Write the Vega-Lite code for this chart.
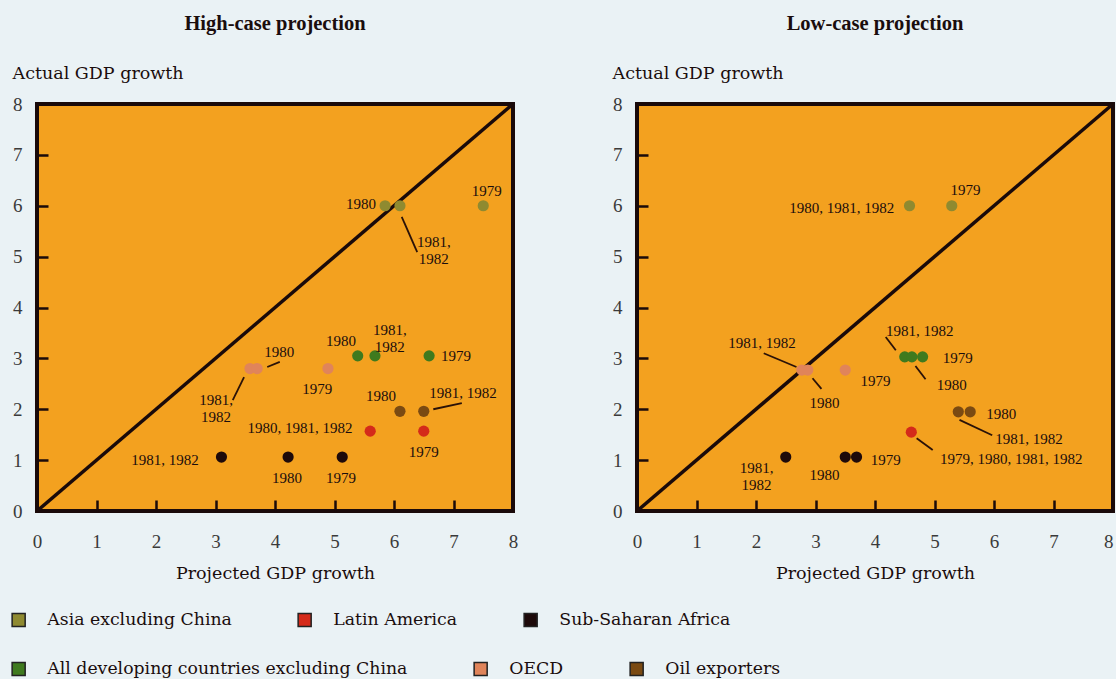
{
  "$schema": "https://vega.github.io/schema/vega-lite/v6.json",
  "background": "#EAF2F5",
  "padding": {"left": 10, "top": 11, "right": 0, "bottom": 0},
  "spacing": 124,
  "bounds": "flush",
  "datasets": {
    "diag": [{"x": 0, "y": 0, "x2": 8, "y2": 8}],
    "points": [
      {"panel": "High", "group": "Asia excluding China", "year": "1980", "x": 5.85, "y": 6.0},
      {"panel": "High", "group": "Asia excluding China", "year": "1981, 1982", "x": 6.1, "y": 6.0},
      {"panel": "High", "group": "Asia excluding China", "year": "1979", "x": 7.5, "y": 6.0},
      {"panel": "High", "group": "All developing countries excluding China", "year": "1980", "x": 5.39, "y": 3.05},
      {"panel": "High", "group": "All developing countries excluding China", "year": "1981, 1982", "x": 5.68, "y": 3.05},
      {"panel": "High", "group": "All developing countries excluding China", "year": "1979", "x": 6.59, "y": 3.05},
      {"panel": "High", "group": "OECD", "year": "1981, 1982", "x": 3.58, "y": 2.8},
      {"panel": "High", "group": "OECD", "year": "1980", "x": 3.7, "y": 2.8},
      {"panel": "High", "group": "OECD", "year": "1979", "x": 4.89, "y": 2.8},
      {"panel": "High", "group": "Oil exporters", "year": "1980", "x": 6.1, "y": 1.96},
      {"panel": "High", "group": "Oil exporters", "year": "1981, 1982", "x": 6.5, "y": 1.96},
      {"panel": "High", "group": "Latin America", "year": "1980, 1981, 1982", "x": 5.6, "y": 1.57},
      {"panel": "High", "group": "Latin America", "year": "1979", "x": 6.5, "y": 1.57},
      {"panel": "High", "group": "Sub-Saharan Africa", "year": "1981, 1982", "x": 3.1, "y": 1.06},
      {"panel": "High", "group": "Sub-Saharan Africa", "year": "1980", "x": 4.22, "y": 1.06},
      {"panel": "High", "group": "Sub-Saharan Africa", "year": "1979", "x": 5.13, "y": 1.06},
      {"panel": "Low", "group": "Asia excluding China", "year": "1980, 1981, 1982", "x": 4.58, "y": 6.0},
      {"panel": "Low", "group": "Asia excluding China", "year": "1979", "x": 5.29, "y": 6.0},
      {"panel": "Low", "group": "All developing countries excluding China", "year": "1981, 1982", "x": 4.5, "y": 3.03},
      {"panel": "Low", "group": "All developing countries excluding China", "year": "1980", "x": 4.62, "y": 3.03},
      {"panel": "Low", "group": "All developing countries excluding China", "year": "1979", "x": 4.8, "y": 3.03},
      {"panel": "Low", "group": "OECD", "year": "1981, 1982", "x": 2.77, "y": 2.77},
      {"panel": "Low", "group": "OECD", "year": "1980", "x": 2.87, "y": 2.77},
      {"panel": "Low", "group": "OECD", "year": "1979", "x": 3.5, "y": 2.77},
      {"panel": "Low", "group": "Oil exporters", "year": "1981, 1982", "x": 5.4, "y": 1.95},
      {"panel": "Low", "group": "Oil exporters", "year": "1980", "x": 5.6, "y": 1.95},
      {"panel": "Low", "group": "Latin America", "year": "1979, 1980, 1981, 1982", "x": 4.61, "y": 1.55},
      {"panel": "Low", "group": "Sub-Saharan Africa", "year": "1981, 1982", "x": 2.5, "y": 1.06},
      {"panel": "Low", "group": "Sub-Saharan Africa", "year": "1980", "x": 3.5, "y": 1.06},
      {"panel": "Low", "group": "Sub-Saharan Africa", "year": "1979", "x": 3.69, "y": 1.06}
    ],
    "labels": [
      {"panel": "High", "text": "1980", "x": 5.445, "y": 6.03},
      {"panel": "High", "text": "1981,\n1982", "x": 6.67, "y": 5.28},
      {"panel": "High", "text": "1979", "x": 7.56, "y": 6.29},
      {"panel": "High", "text": "1980", "x": 5.11, "y": 3.34},
      {"panel": "High", "text": "1981,\n1982", "x": 5.93, "y": 3.56},
      {"panel": "High", "text": "1979", "x": 7.04, "y": 3.05},
      {"panel": "High", "text": "1980", "x": 4.07, "y": 3.12},
      {"panel": "High", "text": "1981,\n1982", "x": 3.01, "y": 2.18},
      {"panel": "High", "text": "1979", "x": 4.71, "y": 2.40},
      {"panel": "High", "text": "1980", "x": 5.78, "y": 2.26},
      {"panel": "High", "text": "1981, 1982", "x": 7.16, "y": 2.32},
      {"panel": "High", "text": "1980, 1981, 1982", "x": 4.42, "y": 1.63},
      {"panel": "High", "text": "1979", "x": 6.50, "y": 1.16},
      {"panel": "High", "text": "1981, 1982", "x": 2.15, "y": 1.00},
      {"panel": "High", "text": "1980", "x": 4.20, "y": 0.65},
      {"panel": "High", "text": "1979", "x": 5.11, "y": 0.65},
      {"panel": "Low", "text": "1980, 1981, 1982", "x": 3.44, "y": 5.95},
      {"panel": "Low", "text": "1979", "x": 5.52, "y": 6.31},
      {"panel": "Low", "text": "1981, 1982", "x": 4.75, "y": 3.54},
      {"panel": "Low", "text": "1979", "x": 5.39, "y": 3.01},
      {"panel": "Low", "text": "1980", "x": 5.29, "y": 2.48},
      {"panel": "Low", "text": "1981, 1982", "x": 2.10, "y": 3.30},
      {"panel": "Low", "text": "1980", "x": 3.15, "y": 2.12},
      {"panel": "Low", "text": "1979", "x": 4.01, "y": 2.55},
      {"panel": "Low", "text": "1980", "x": 6.12, "y": 1.91},
      {"panel": "Low", "text": "1981, 1982", "x": 6.59, "y": 1.41},
      {"panel": "Low", "text": "1979, 1980, 1981, 1982", "x": 6.29, "y": 1.02},
      {"panel": "Low", "text": "1981,\n1982", "x": 2.01, "y": 0.84},
      {"panel": "Low", "text": "1980", "x": 3.15, "y": 0.71},
      {"panel": "Low", "text": "1979", "x": 4.18, "y": 1.00}
    ],
    "leaders": [
      {"panel": "High", "x": 6.13, "y": 5.78, "x2": 6.39, "y2": 5.09},
      {"panel": "High", "x": 3.87, "y": 2.83, "x2": 4.08, "y2": 2.93},
      {"panel": "High", "x": 3.48, "y": 2.63, "x2": 3.29, "y2": 2.18},
      {"panel": "High", "x": 6.66, "y": 2.0, "x2": 7.14, "y2": 2.12},
      {"panel": "Low", "x": 4.18, "y": 3.42, "x2": 4.35, "y2": 3.16},
      {"panel": "Low", "x": 4.68, "y": 2.85, "x2": 4.85, "y2": 2.59},
      {"panel": "Low", "x": 2.13, "y": 3.10, "x2": 2.68, "y2": 2.83},
      {"panel": "Low", "x": 2.95, "y": 2.61, "x2": 3.10, "y2": 2.40},
      {"panel": "Low", "x": 5.42, "y": 1.79, "x2": 5.97, "y2": 1.49},
      {"panel": "Low", "x": 4.70, "y": 1.43, "x2": 4.97, "y2": 1.20}
    ]
  },
  "config": {
    "view": {"fill": "#F3A11F", "stroke": "#1a0a0a", "strokeWidth": 4},
    "axis": {
      "domain": false, "grid": false,
      "tickSize": -11, "tickWidth": 2.5, "tickColor": "#1a0a0a",
      "labelFont": "Liberation Serif", "labelFontSize": 19, "labelColor": "#3a3a3a",
      "titleFont": "DejaVu Serif", "titleFontSize": 17.5, "titleFontWeight": "normal", "titleColor": "#1a0d0d"
    },
    "axisX": {"labelPadding": 32, "labelFlush": false, "format": "d", "titleY": 67, "titleBaseline": "alphabetic"},
    "axisY": {"labelPadding": 26, "format": "d", "titleAngle": 0, "titleAlign": "left", "titleBaseline": "alphabetic", "titleX": -25, "titleY": -26},
    "title": {"font": "Liberation Serif", "fontSize": 20.5, "fontWeight": "bold", "color": "#1a0d0d", "anchor": "middle", "offset": 30},
    "legend": {
      "orient": "none", "direction": "horizontal",
      "columnPadding": 63, "symbolType": "square", "symbolSize": 170,
      "symbolStrokeColor": "#222222", "symbolStrokeWidth": 1.5, "symbolOpacity": 1,
      "labelFont": "DejaVu Serif", "labelFontSize": 17.3, "labelColor": "#1a0d0d", "labelOffset": 20, "labelLimit": 500
    }
  },
  "resolve": {"scale": {"color": "shared", "fill": "shared"}},
  "hconcat": [
    {
      "width": 476, "height": 407,
      "title": "High-case projection",
      "layer": [
        {
          "data": {"name": "diag"},
          "mark": {"type": "rule", "stroke": "#1a0a0a", "strokeWidth": 3.5},
          "encoding": {
            "x": {"field": "x", "type": "quantitative", "scale": {"domain": [0, 8], "nice": false}, "axis": {"title": "Projected GDP growth", "values": [0, 1, 2, 3, 4, 5, 6, 7, 8]}},
            "y": {"field": "y", "type": "quantitative", "scale": {"domain": [0, 8], "nice": false}, "axis": {"title": "Actual GDP growth", "values": [0, 1, 2, 3, 4, 5, 6, 7, 8]}},
            "x2": {"field": "x2"}, "y2": {"field": "y2"}
          }
        },
        {
          "data": {"name": "leaders"},
          "transform": [{"filter": "datum.panel === 'High'"}],
          "mark": {"type": "rule", "stroke": "#2a1208", "strokeWidth": 1.8},
          "encoding": {
            "x": {"field": "x", "type": "quantitative"}, "y": {"field": "y", "type": "quantitative"},
            "x2": {"field": "x2"}, "y2": {"field": "y2"}
          }
        },
        {
          "data": {"name": "points"},
          "transform": [{"filter": "datum.panel === 'High'"}, {"filter": {"field": "group", "oneOf": ["All developing countries excluding China", "OECD", "Oil exporters"]}}],
          "mark": {"type": "circle", "size": 125, "opacity": 1},
          "encoding": {
            "x": {"field": "x", "type": "quantitative"}, "y": {"field": "y", "type": "quantitative"},
            "fill": {
              "field": "group", "type": "nominal",
              "scale": {
                "domain": ["All developing countries excluding China", "OECD", "Oil exporters"],
                "range": ["#3F7A1E", "#E0845A", "#7A4A12"]
              },
              "legend": {"title": null, "symbolType": "square", "orient": "none", "direction": "horizontal", "legendX": -27, "legendY": 556}
            }
          }
        },
        {
          "data": {"name": "points"},
          "transform": [{"filter": "datum.panel === 'High'"}, {"filter": {"field": "group", "oneOf": ["Asia excluding China", "Latin America", "Sub-Saharan Africa"]}}],
          "mark": {"type": "circle", "size": 125, "opacity": 1},
          "encoding": {
            "x": {"field": "x", "type": "quantitative"}, "y": {"field": "y", "type": "quantitative"},
            "color": {
              "field": "group", "type": "nominal",
              "scale": {
                "domain": ["Asia excluding China", "Latin America", "Sub-Saharan Africa"],
                "range": ["#8F8A30", "#D42A1A", "#1E0A0A"]
              },
              "legend": {"title": null, "symbolType": "square", "orient": "none", "direction": "horizontal", "legendX": -27, "legendY": 507}
            }
          }
        },
        {
          "data": {"name": "labels"},
          "transform": [{"filter": "datum.panel === 'High'"}],
          "mark": {"type": "text", "font": "Liberation Serif", "fontSize": 15, "lineBreak": "\n", "baseline": "middle", "align": "center", "color": "#1a0d0d"},
          "encoding": {
            "x": {"field": "x", "type": "quantitative"}, "y": {"field": "y", "type": "quantitative"},
            "text": {"field": "text"}
          }
        }
      ]
    },
    {
      "width": 476, "height": 407,
      "title": "Low-case projection",
      "layer": [
        {
          "data": {"name": "diag"},
          "mark": {"type": "rule", "stroke": "#1a0a0a", "strokeWidth": 3.5},
          "encoding": {
            "x": {"field": "x", "type": "quantitative", "scale": {"domain": [0, 8], "nice": false}, "axis": {"title": "Projected GDP growth", "values": [0, 1, 2, 3, 4, 5, 6, 7, 8], "labelAlign": {"condition": {"test": "datum.value === 8", "value": "right"}, "value": "center"}}},
            "y": {"field": "y", "type": "quantitative", "scale": {"domain": [0, 8], "nice": false}, "axis": {"title": "Actual GDP growth", "values": [0, 1, 2, 3, 4, 5, 6, 7, 8]}},
            "x2": {"field": "x2"}, "y2": {"field": "y2"}
          }
        },
        {
          "data": {"name": "leaders"},
          "transform": [{"filter": "datum.panel === 'Low'"}],
          "mark": {"type": "rule", "stroke": "#2a1208", "strokeWidth": 1.8},
          "encoding": {
            "x": {"field": "x", "type": "quantitative"}, "y": {"field": "y", "type": "quantitative"},
            "x2": {"field": "x2"}, "y2": {"field": "y2"}
          }
        },
        {
          "data": {"name": "points"},
          "transform": [{"filter": "datum.panel === 'Low'"}, {"filter": {"field": "group", "oneOf": ["All developing countries excluding China", "OECD", "Oil exporters"]}}],
          "mark": {"type": "circle", "size": 125, "opacity": 1},
          "encoding": {
            "x": {"field": "x", "type": "quantitative"}, "y": {"field": "y", "type": "quantitative"},
            "fill": {"field": "group", "type": "nominal"}
          }
        },
        {
          "data": {"name": "points"},
          "transform": [{"filter": "datum.panel === 'Low'"}, {"filter": {"field": "group", "oneOf": ["Asia excluding China", "Latin America", "Sub-Saharan Africa"]}}],
          "mark": {"type": "circle", "size": 125, "opacity": 1},
          "encoding": {
            "x": {"field": "x", "type": "quantitative"}, "y": {"field": "y", "type": "quantitative"},
            "color": {"field": "group", "type": "nominal"}
          }
        },
        {
          "data": {"name": "labels"},
          "transform": [{"filter": "datum.panel === 'Low'"}],
          "mark": {"type": "text", "font": "Liberation Serif", "fontSize": 15, "lineBreak": "\n", "baseline": "middle", "align": "center", "color": "#1a0d0d"},
          "encoding": {
            "x": {"field": "x", "type": "quantitative"}, "y": {"field": "y", "type": "quantitative"},
            "text": {"field": "text"}
          }
        }
      ]
    }
  ]
}
